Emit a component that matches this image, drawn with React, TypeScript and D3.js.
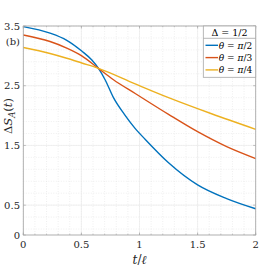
import React from "react";
import * as d3 from "d3";

const xTicks = [0, 0.5, 1, 1.5, 2];
const yTicks = [0, 0.5, 1.5, 2.5, 3.5];
const yTickLabels = ["0", "0.5", "1.5", "2.5", "3.5"];
const xTickLabels = ["0", "0.5", "1", "1.5", "2"];

const tBlue = [0, 0.23, 0.374, 0.503, 0.59, 0.647, 0.704, 0.776, 0.87, 0.96, 1.05, 1.25, 1.5, 1.75, 2];
const vBlue = [3.49, 3.38, 3.26, 3.08, 2.93, 2.79, 2.6, 2.3, 2.02, 1.79, 1.6, 1.21, 0.84, 0.61, 0.44];

const tRed = [0, 0.23, 0.374, 0.503, 0.647, 0.776, 0.963, 1.25, 1.5, 1.75, 2];
const vRed = [3.35, 3.24, 3.13, 3.0, 2.79, 2.6, 2.37, 2.02, 1.73, 1.48, 1.28];

const tYellow = [0, 0.23, 0.374, 0.503, 0.647, 0.963, 1.25, 1.62, 2];
const vYellow = [3.14, 3.04, 2.96, 2.88, 2.79, 2.53, 2.3, 2.03, 1.77];

const seriesNames = ["π/2", "π/3", "π/4"];
const colors = ["#0072BD", "#D95319", "#EDB120"];

const W = 269, H = 273;
const L = 23.3, R = 255.7, T = 26, B = 235;
const FONT = "DejaVu Serif";

export default function App() {
  const x = d3.scaleLinear().domain([0, 2]).range([L, R]);
  const y = d3.scaleLinear().domain([0, 3.5]).range([B, T]);
  const line = d3
    .line<[number, number]>()
    .x((d) => x(d[0]))
    .y((d) => y(d[1]))
    .curve(d3.curveMonotoneX);

  const series = [
    tBlue.map((t, i) => [t, vBlue[i]] as [number, number]),
    tRed.map((t, i) => [t, vRed[i]] as [number, number]),
    tYellow.map((t, i) => [t, vYellow[i]] as [number, number]),
  ];

  const xMinor = d3.range(0, 2.0001, 0.1);
  const yMinor = d3.range(0.1, 3.5001, 0.2);

  const legX0 = 203.3, legX1 = R, legY0 = T, legDiv = 38.3, legY1 = 77.3;
  const entryY = [45.3, 57.6, 69.9];

  return (
    <svg width={W} height={H} style={{ position: "absolute", left: 0, top: 0, background: "#fff" }}>
      <rect x={0} y={0} width={W} height={H} fill="#fff" />
      {xMinor.map((v, i) => (
        <line key={"xm" + i} x1={x(v)} x2={x(v)} y1={T} y2={B} stroke="#e4e4e4" strokeWidth={0.6} strokeDasharray="1,1.5" />
      ))}
      {yMinor.map((v, i) => (
        <line key={"ym" + i} x1={L} x2={R} y1={y(v)} y2={y(v)} stroke="#e4e4e4" strokeWidth={0.6} strokeDasharray="1,1.5" />
      ))}
      {xTicks.map((v, i) => (
        <line key={"xg" + i} x1={x(v)} x2={x(v)} y1={T} y2={B} stroke="#ebebeb" strokeWidth={0.7} />
      ))}
      {yTicks.map((v, i) => (
        <line key={"yg" + i} x1={L} x2={R} y1={y(v)} y2={y(v)} stroke="#ebebeb" strokeWidth={0.7} />
      ))}
      {series.map((s, i) => (
        <path key={"s" + i} d={line(s) || ""} fill="none" stroke={colors[i]} strokeWidth={1.4} />
      ))}
      <rect x={L} y={T} width={R - L} height={B - T} fill="none" stroke="#a6a6a6" strokeWidth={0.8} />
      {xTicks.map((v, i) => (
        <g key={"xt" + i}>
          <line x1={x(v)} x2={x(v)} y1={B} y2={B - 2.5} stroke="#a6a6a6" strokeWidth={0.7} />
          <line x1={x(v)} x2={x(v)} y1={T} y2={T + 2.5} stroke="#a6a6a6" strokeWidth={0.7} />
          <text x={x(v)} y={248} textAnchor="middle" fontSize={10} fill="#262626" fontFamily={FONT}>
            {xTickLabels[i]}
          </text>
        </g>
      ))}
      {xMinor.map((v, i) => (
        <g key={"xmt" + i}>
          <line x1={x(v)} x2={x(v)} y1={B} y2={B - 1.3} stroke="#a6a6a6" strokeWidth={0.6} />
          <line x1={x(v)} x2={x(v)} y1={T} y2={T + 1.3} stroke="#a6a6a6" strokeWidth={0.6} />
        </g>
      ))}
      {yTicks.map((v, i) => (
        <g key={"yt" + i}>
          <line x1={L} x2={L + 2.5} y1={y(v)} y2={y(v)} stroke="#a6a6a6" strokeWidth={0.7} />
          <line x1={R} x2={R - 2.5} y1={y(v)} y2={y(v)} stroke="#a6a6a6" strokeWidth={0.7} />
          <text x={20} y={y(v) + 3.6} textAnchor="end" fontSize={10} fill="#262626" fontFamily={FONT}>
            {yTickLabels[i]}
          </text>
        </g>
      ))}
      <text x={20} y={45} textAnchor="end" fontSize={10} fill="#262626" fontFamily={FONT}>
        (b)
      </text>
      <text transform={`translate(12,116) rotate(-90)`} textAnchor="middle" fontSize={11.5} fill="#262626" fontFamily={FONT}>
        Δ<tspan fontStyle="italic">S</tspan>
        <tspan fontStyle="italic" fontSize={8.5} dy={2.5}>A</tspan>
        <tspan dy={-2.5}>(</tspan>
        <tspan fontStyle="italic">t</tspan>)
      </text>
      <text x={(L + R) / 2} y={264} textAnchor="middle" fontSize={12} fill="#262626" fontFamily={FONT}>
        <tspan fontStyle="italic">t</tspan>/<tspan fontStyle="italic">ℓ</tspan>
      </text>
      <rect x={legX0} y={legY0} width={legX1 - legX0} height={legY1 - legY0} fill="#fff" stroke="#a6a6a6" strokeWidth={0.8} />
      <line x1={legX0} x2={legX1} y1={legDiv} y2={legDiv} stroke="#a6a6a6" strokeWidth={0.8} />
      <text x={(legX0 + legX1) / 2} y={35.5} textAnchor="middle" fontSize={9.5} fill="#000" fontFamily={FONT}>
        Δ = 1/2
      </text>
      {seriesNames.map((n, i) => (
        <g key={"lg" + i}>
          <line x1={205.5} x2={218} y1={entryY[i]} y2={entryY[i]} stroke={colors[i]} strokeWidth={1.4} />
          <text x={218.8} y={entryY[i] + 3.3} fontSize={9} fill="#000" fontFamily={FONT}>
            <tspan fontStyle="italic">θ</tspan> = <tspan fontStyle="italic">π</tspan>
            {n.slice(1)}
          </text>
        </g>
      ))}
    </svg>
  );
}
